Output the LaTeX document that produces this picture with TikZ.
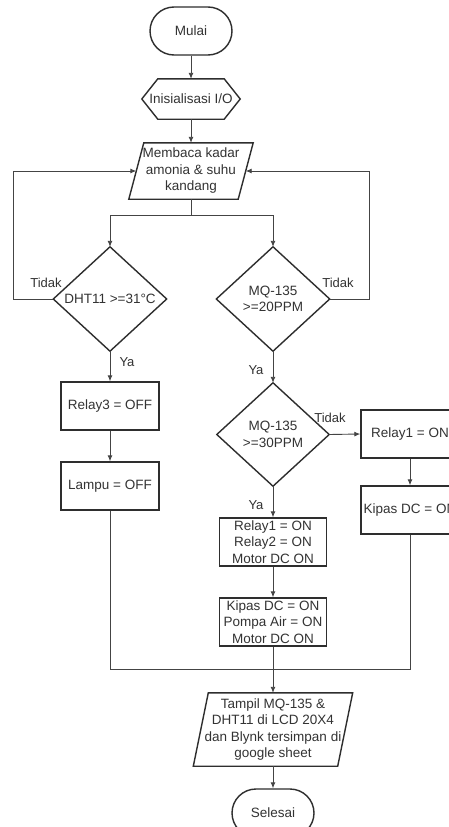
\documentclass[tikz,border=0pt]{standalone}
\usepackage{fontspec}
\setmainfont{Liberation Sans}
\usetikzlibrary{arrows.meta}
\definecolor{txtc}{HTML}{333333}
\definecolor{shapec}{HTML}{2E2E2E}
\definecolor{linec}{HTML}{444444}
\begin{document}
\begin{tikzpicture}[x=1pt,y=-1pt,
  txt/.style={font=\fontsize{13.5}{16.5}\selectfont, text=txtc, align=center, inner sep=0pt},
  shp/.style={draw=shapec, line width=1.4pt, line join=miter},
  procbox/.style={txt, shp, minimum width=98pt, minimum height=48pt},
  termbox/.style={txt, shp, rounded corners=24pt, minimum width=82pt, minimum height=48pt},
  ghost/.style={txt, draw=none},
  arr/.style={draw=linec, line width=0.9pt, -{Latex[length=6pt,width=5pt]}},
  ln/.style={draw=linec, line width=0.9pt},
  lbl/.style={font=\fontsize{13}{15}\selectfont, text=txtc, inner sep=0pt}]
\useasboundingbox (0,0) rectangle (449,827);
\fill[white] (0,0) rectangle (449,827);

% nodes
\node[termbox] (mulai) at (191,31) {Mulai};
\node[ghost, minimum width=98pt, minimum height=40pt] (init) at (191,99) {Inisialisasi I/O};
\draw[shp] (init.west) -- ([xshift=16pt]init.north west) -- ([xshift=-16pt]init.north east)
  -- (init.east) -- ([xshift=-16pt]init.south east) -- ([xshift=16pt]init.south west) -- cycle;

\node[ghost, minimum width=109pt, minimum height=56pt] (baca) at (191,171) {Membaca kadar\\amonia \& suhu\\kandang};
\draw[shp] ([xshift=7.5pt]baca.north west) -- ([xshift=7.5pt]baca.north east)
  -- ([xshift=-7.5pt]baca.south east) -- ([xshift=-7.5pt]baca.south west) -- cycle;

\node[ghost, minimum width=113pt, minimum height=104pt] (dht) at (110,299) {DHT11 >=31°C};
\draw[shp] (dht.north) -- (dht.east) -- (dht.south) -- (dht.west) -- cycle;

\node[ghost, minimum width=113pt, minimum height=104pt] (mqa) at (273,299) {MQ-135\\>=20PPM};
\draw[shp] (mqa.north) -- (mqa.east) -- (mqa.south) -- (mqa.west) -- cycle;

\node[procbox] (relay3) at (110,406) {Relay3 = OFF};
\node[procbox] (lampu) at (110,486) {Lampu = OFF};

\node[ghost, minimum width=112pt, minimum height=103pt] (mqb) at (273,434.5) {MQ-135\\>=30PPM};
\draw[shp] (mqb.north) -- (mqb.east) -- (mqb.south) -- (mqb.west) -- cycle;

\node[procbox] (relay1) at (410,434) {Relay1 = ON};
\node[procbox] (kipas) at (410,510) {Kipas DC = ON};

\node[procbox, minimum width=107pt] (rel12) at (273,542) {Relay1 = ON\\Relay2 = ON\\Motor DC ON};
\node[procbox, minimum width=107pt] (kipom) at (273,622) {Kipas DC = ON\\Pompa Air = ON\\Motor DC ON};

\node[ghost, minimum width=144pt, minimum height=73pt] (tampil) at (273,729.5) {Tampil MQ-135 \&\\DHT11 di LCD 20X4\\dan Blynk tersimpan di\\google sheet};
\draw[shp] ([xshift=7.5pt]tampil.north west) -- ([xshift=7.5pt]tampil.north east)
  -- ([xshift=-7.5pt]tampil.south east) -- ([xshift=-7.5pt]tampil.south west) -- cycle;

\node[termbox] (selesai) at (273,813) {Selesai};

% helper coordinates
\coordinate (split) at (191,215);
\coordinate (loopL) at (13,299);
\coordinate (loopR) at (369,299);
\coordinate (merge) at (273,669);

% connectors
\draw[arr] (mulai.south) -- (init.north);
\draw[arr] (init.south) -- (baca.north);
\draw[ln] (baca.south) -- (split);
\draw[arr] (split) -| (dht.north);
\draw[arr] (split) -| (mqa.north);
\draw[arr] (dht.west) -- (loopL) |- (baca.west);
\draw[arr] (mqa.east) -- (loopR) |- (baca.east);
\draw[arr] (dht.south) -- (relay3.north);
\draw[arr] (relay3.south) -- (lampu.north);
\draw[arr] (mqa.south) -- (mqb.north);
\draw[arr] (mqb.east) -- (relay1.west);
\draw[arr] (relay1.south) -- (kipas.north);
\draw[arr] (mqb.south) -- (rel12.north);
\draw[arr] (rel12.south) -- (kipom.north);
\draw[ln] (lampu.south) |- (merge);
\draw[ln] (kipas.south) |- (merge);
\draw[arr] (kipom.south) -- (tampil.north);
\draw[arr] (tampil.south) -- (selesai.north);

% labels
\node[lbl] (t1) at (46,283) {Tidak};
\node[lbl] (t2) at (338,283) {Tidak};
\node[lbl] (y1) at (127,362) {Ya};
\node[lbl] (y2) at (256,370) {Ya};
\node[lbl] (t3) at (330,418) {Tidak};
\node[lbl] (y3) at (256,505) {Ya};
\end{tikzpicture}
\end{document}
